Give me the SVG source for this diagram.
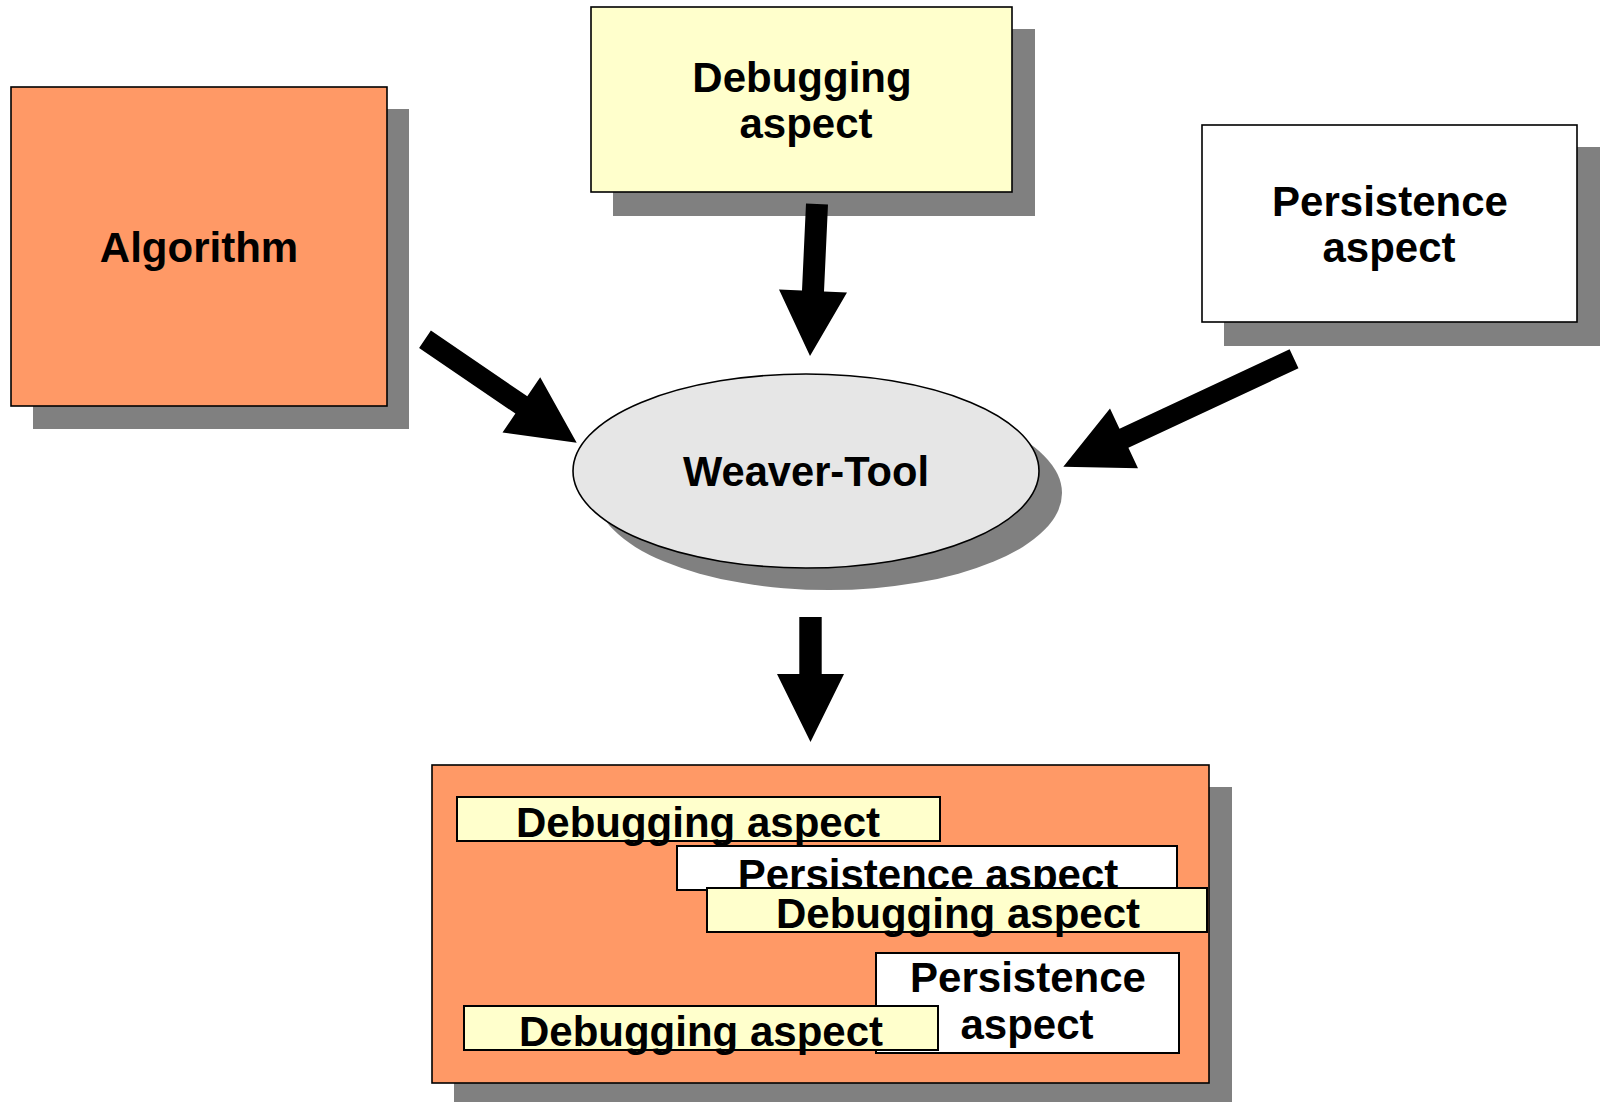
<svg xmlns="http://www.w3.org/2000/svg" width="1600" height="1102" viewBox="0 0 1600 1102">
  <style>
    .shadow { fill: #808080; }
    .box { stroke: #000; stroke-width: 1.6; }
    .inner { stroke: #000; stroke-width: 2; }
    .orange { fill: #FF9966; }
    .yellow { fill: #FFFFCC; }
    .white { fill: #FFFFFF; }
    .label { font-family: "Liberation Sans", Arial, sans-serif; font-weight: bold; font-size: 42px; fill: #000; text-anchor: middle; }
    .arrow { fill: #000; stroke: none; }
  </style>
  <rect width="1600" height="1102" fill="#FFFFFF"/>

  <!-- Algorithm -->
  <g id="algorithm">
    <rect class="shadow" x="33" y="109" width="376" height="320"/>
    <rect class="box orange" x="11" y="87" width="376" height="319"/>
    <text class="label" x="199" y="262">Algorithm</text>
  </g>

  <!-- Debugging aspect (input) -->
  <g id="debugging-aspect">
    <rect class="shadow" x="613" y="29" width="422" height="187"/>
    <rect class="box yellow" x="591" y="7" width="421" height="185"/>
    <text class="label" x="802" y="92">Debugging</text>
    <text class="label" x="806" y="138">aspect</text>
  </g>

  <!-- Persistence aspect (input) -->
  <g id="persistence-aspect">
    <rect class="shadow" x="1224" y="147" width="376" height="199"/>
    <rect class="box white" x="1202" y="125" width="375" height="197"/>
    <text class="label" x="1390" y="216">Persistence</text>
    <text class="label" x="1389" y="262">aspect</text>
  </g>

  <!-- Weaver-Tool -->
  <g id="weaver-tool">
    <ellipse class="shadow" cx="829" cy="493" rx="233" ry="97"/>
    <ellipse cx="806" cy="471" rx="233" ry="97" fill="#E6E6E6" stroke="#000" stroke-width="1.6"/>
    <text class="label" x="806" y="486" textLength="246" lengthAdjust="spacingAndGlyphs">Weaver-Tool</text>
  </g>

  <!-- Woven result -->
  <g id="woven-result">
    <rect class="shadow" x="454" y="787" width="778" height="330"/>
    <rect class="box orange" x="432" y="765" width="777" height="318"/>

    <rect class="inner yellow" x="457" y="797" width="483" height="44"/>
    <text class="label" x="698" y="837">Debugging aspect</text>

    <rect class="inner white" x="677" y="846" width="500" height="44"/>
    <text class="label" x="928" y="889">Persistence aspect</text>

    <rect class="inner yellow" x="707" y="888" width="500" height="44"/>
    <text class="label" x="958" y="928">Debugging aspect</text>

    <rect class="inner white" x="876" y="953" width="303" height="100"/>
    <text class="label" x="1028" y="992">Persistence</text>
    <text class="label" x="1027" y="1039">aspect</text>

    <rect class="inner yellow" x="464" y="1006" width="474" height="44"/>
    <text class="label" x="701" y="1046">Debugging aspect</text>
  </g>

  <!-- Connectors: block arrows into and out of the weaver -->
  <g id="connectors">
    <polygon class="arrow" points="419.1,347.9 515.4,413.6 502.5,432.6 576.7,442.7 540.2,377.3 527.3,396.3 430.9,330.5"/>
    <polygon class="arrow" points="806,203.5 802,290.6 779,289.5 810,356 847,292.6 824,291.6 828,204.5"/>
    <polygon class="arrow" points="1289.6,349.3 1119.5,428.8 1110,408.4 1063.3,466.7 1138,468.2 1128.4,447.8 1298.5,368.3"/>
    <polygon class="arrow" points="799.3,617 799.3,674 777,674 810.5,742 844,674 821.7,674 821.7,617"/>
  </g>
</svg>
